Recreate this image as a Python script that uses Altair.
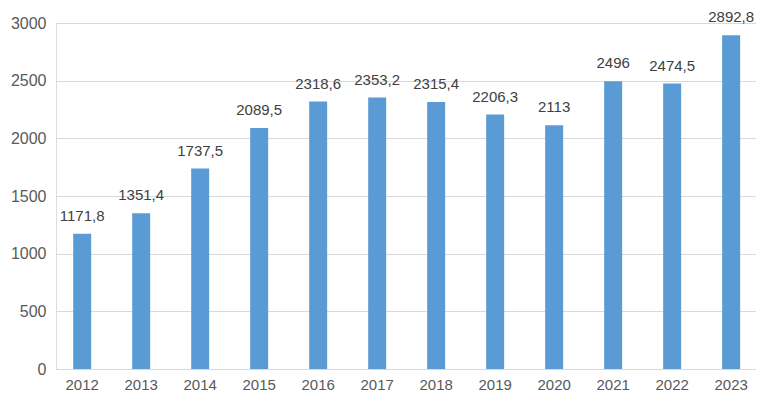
import altair as alt
import pandas as pd

years = ["2012", "2013", "2014", "2015", "2016", "2017", "2018", "2019", "2020", "2021", "2022", "2023"]
values = [1171.8, 1351.4, 1737.5, 2089.5, 2318.6, 2353.2, 2315.4, 2206.3, 2113, 2496, 2474.5, 2892.8]
y_ticks = [0, 500, 1000, 1500, 2000, 2500, 3000]

labels = [f"{v:g}".replace(".", ",") for v in values]
df = pd.DataFrame({"year": years, "value": values, "label": labels})

FONT = "Liberation Sans"

x = alt.X(
    "year:N",
    sort=years,
    title=None,
    scale=alt.Scale(paddingInner=0.695, paddingOuter=0.28, align=0.52),
    axis=alt.Axis(
        labelAngle=0,
        ticks=False,
        tickSize=0,
        domain=False,
        labelPadding=8,
        labelFontSize=15,
        labelColor="#595959",
        labelFont=FONT,
        grid=False,
    ),
)
y = alt.Y(
    "value:Q",
    title=None,
    scale=alt.Scale(domain=[0, 3000], nice=False, zero=True),
    axis=alt.Axis(
        values=y_ticks,
        format="d",
        ticks=False,
        tickSize=0,
        domain=False,
        labelPadding=10,
        labelFontSize=16,
        labelColor="#595959",
        labelFont=FONT,
        grid=True,
        gridColor="#d9d9d9",
        gridWidth=1,
    ),
)

bars = alt.Chart(df).mark_bar(color="#5B9BD5").encode(x=x, y=y)
text = alt.Chart(df).mark_text(
    dy=-13, baseline="alphabetic", align="center", fontSize=15, font=FONT, color="#404040"
).encode(x=alt.X("year:N", sort=years), y="value:Q", text="label:N")

chart = (
    alt.layer(bars, text)
    .properties(
        width=700,
        height=346,
        autosize=alt.AutoSizeParams(type="none"),
        padding={"left": 48, "top": 15, "right": 0, "bottom": 25},
    )
    .configure_view(stroke=None)
    .configure(background="white")
)

chart.save("out.html", embed_options={"renderer": "svg", "actions": False})
